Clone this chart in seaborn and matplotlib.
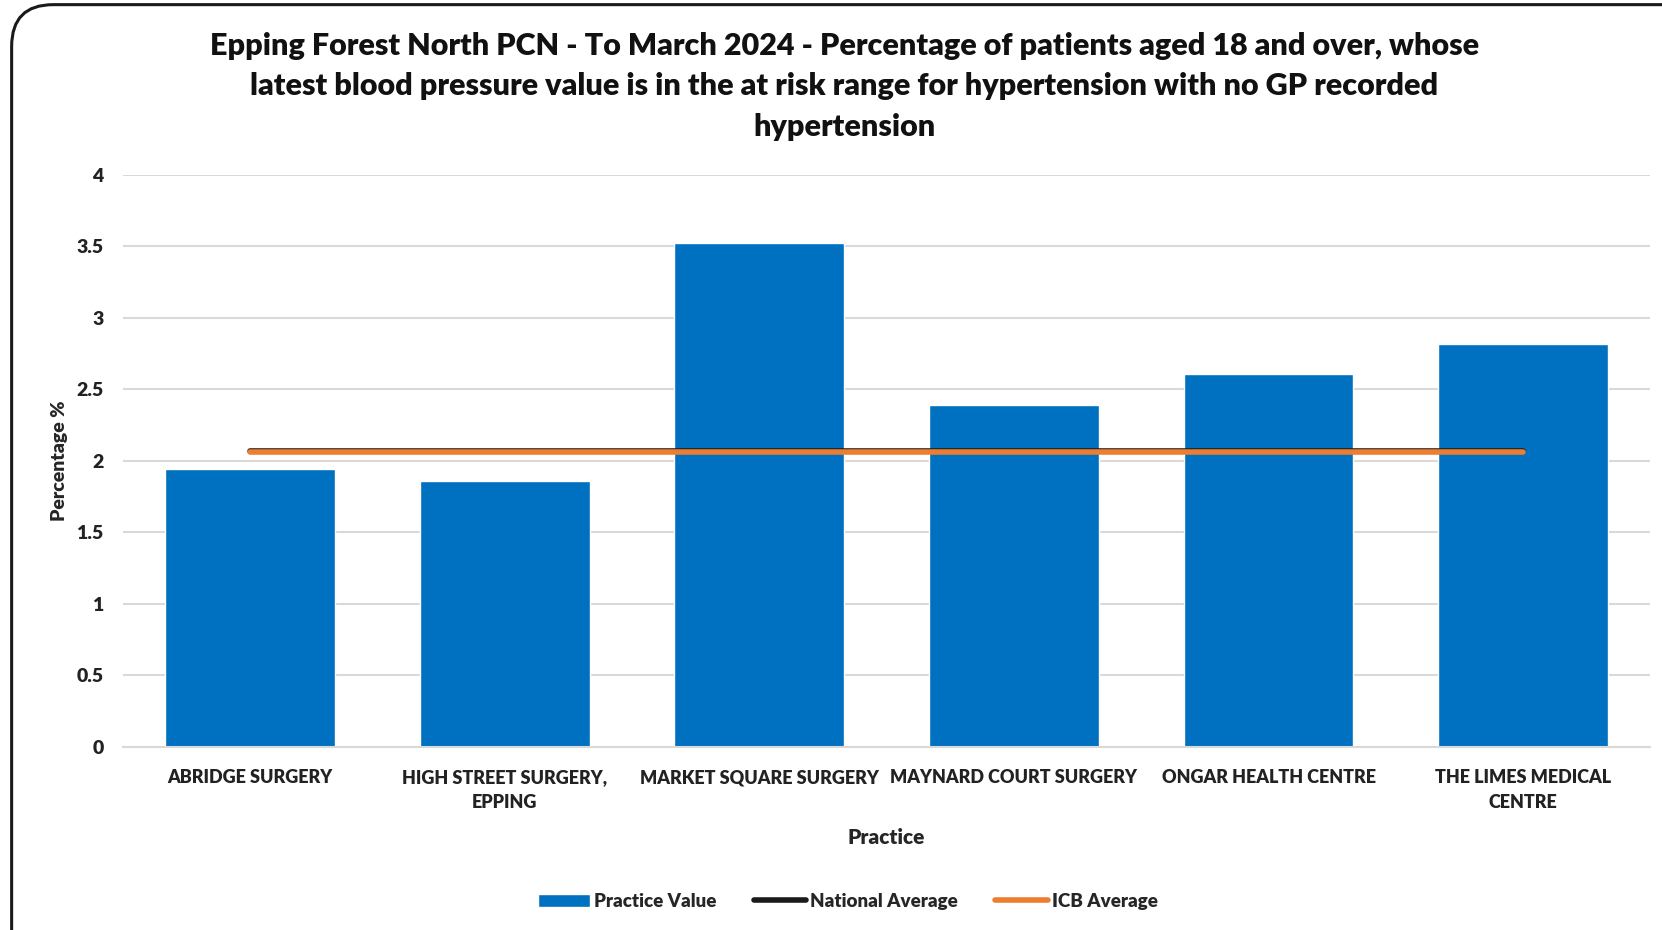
import matplotlib
matplotlib.use("Agg")
import matplotlib.pyplot as plt
import seaborn as sns
import pandas as pd
from matplotlib.patches import FancyBboxPatch
from matplotlib.lines import Line2D
from matplotlib.patches import Patch

practices = ["ABRIDGE SURGERY", "HIGH STREET SURGERY,\nEPPING", "MARKET SQUARE SURGERY",
             "MAYNARD COURT SURGERY", "ONGAR HEALTH CENTRE", "THE LIMES MEDICAL\nCENTRE"]
practice_value = [1.94, 1.86, 3.52, 2.39, 2.61, 2.82]
national_avg = [2.07] * 6
icb_avg = [2.06] * 6
y_ticks = [0, 0.5, 1, 1.5, 2, 2.5, 3, 3.5, 4]
y_tick_labels = ["0", "0.5", "1", "1.5", "2", "2.5", "3", "3.5", "4"]

df = pd.DataFrame({"Practice": practices, "Value": practice_value,
                   "National": national_avg, "ICB": icb_avg})

sns.set_style("white")
plt.rcParams["font.family"] = ["Lato", "DejaVu Sans"]
plt.rcParams["font.weight"] = "bold"

fig = plt.figure(figsize=(16.62, 9.30), dpi=100)
ax = fig.add_axes([0.074, 0.197, 0.919, 0.615])

# rounded chart border
border = FancyBboxPatch((0.007, -0.05), 1.05, 1.045, boxstyle="round,pad=0,rounding_size=0.025",
                        transform=fig.transFigure, facecolor="none", edgecolor="#1a1a1a",
                        linewidth=2.2, mutation_aspect=1.8)
fig.patches.append(border)

sns.barplot(data=df, x="Practice", y="Value", color="#0070C0", width=0.667,
            saturation=1, ax=ax, zorder=2)
sns.lineplot(x=list(range(6)), y=df["National"], color="#1a1a1a", linewidth=4,
             ax=ax, zorder=3, solid_capstyle="round")
sns.lineplot(x=list(range(6)), y=df["ICB"], color="#ED7D31", linewidth=4,
             ax=ax, zorder=4, solid_capstyle="round")

ax.set_ylim(0, 4)
ax.set_xlim(-0.5, 5.5)
ax.set_yticks(y_ticks)
ax.set_yticklabels(y_tick_labels, fontsize=14, fontweight="heavy", color="#222222")
ax.set_xticks(range(6))
ax.set_xticklabels(practices, fontsize=13, fontweight="heavy", color="#222222",
                   linespacing=1.6)
ax.yaxis.grid(True, color="#d9d9d9", linewidth=1.5, zorder=0)
ax.set_axisbelow(True)
for s in ["top", "right", "left"]:
    ax.spines[s].set_visible(False)
ax.spines["bottom"].set_color("#d9d9d9")
ax.spines["bottom"].set_linewidth(1.5)
ax.tick_params(axis="y", length=0, pad=14)
ax.tick_params(axis="x", length=0, pad=16)

ax.set_xlabel("Practice", fontsize=15, fontweight="heavy", labelpad=12)
ax.set_ylabel("Percentage %", fontsize=14, fontweight="heavy", labelpad=6)

fig.suptitle("Epping Forest North PCN - To March 2024 - Percentage of patients aged 18 and over, whose\n"
             "latest blood pressure value is in the at risk range for hypertension with no GP recorded\n"
             "hypertension", x=0.508, y=0.966, fontsize=22, fontweight="heavy", linespacing=1.55,
             color="#111111")

handles = [Patch(facecolor="#0070C0", label="Practice Value"),
           Line2D([0], [0], color="#1a1a1a", linewidth=4, label="National Average"),
           Line2D([0], [0], color="#ED7D31", linewidth=4, label="ICB Average")]
fig.legend(handles=handles, loc="center", bbox_to_anchor=(0.51, 0.031), ncol=3,
           frameon=False, handlelength=2.8, handletextpad=0.2, columnspacing=2.0,
           prop={"weight": "heavy", "size": 13.5})

fig.savefig("out.png", dpi=100)
